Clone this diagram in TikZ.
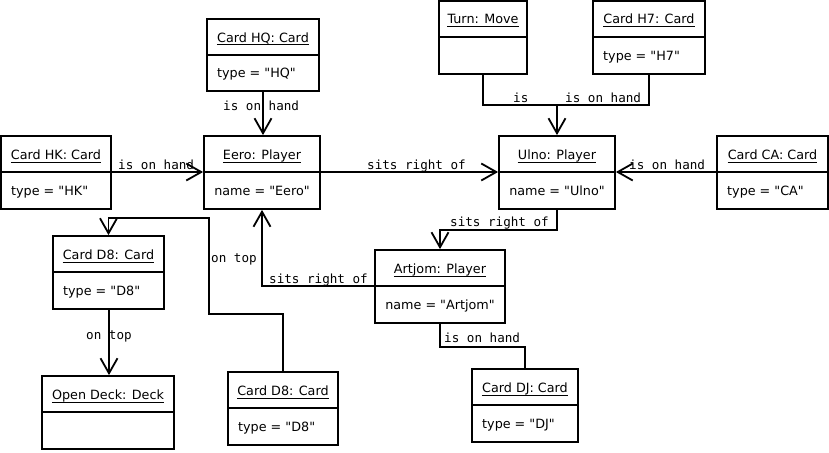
\documentclass[tikz,border=0pt]{standalone}
\usepackage{fontspec}
\setmainfont{DejaVu Sans}[Ligatures=TeXOff]
\newfontfamily\lblfont{DejaVu Sans Mono}[Ligatures=TeXOff]
\usetikzlibrary{arrows.meta}

\tikzset{
  box/.style={draw, line width=1.8pt, inner sep=0pt, rectangle},
  ln/.style={line width=1.8pt},
  arr/.style={ln, -{Straight Barb[length=15pt,width=17pt]}},
  ttl/.style={anchor=base, inner sep=0pt, font=\fontsize{12.75}{14}\selectfont},
  att/.style={anchor=base west, inner sep=0pt, font=\fontsize{12.75}{14}\selectfont},
  attc/.style={anchor=base, inner sep=0pt, font=\fontsize{12.75}{14}\selectfont},
  lbl/.style={anchor=base west, inner sep=0pt, font=\lblfont\fontsize{12.6}{14}\selectfont},
}

\newcommand{\obox}[9]{%
  \node[box, minimum width={(#4-#2)*1pt}, minimum height={(#5-#3)*1pt}] (#1) at ({(#2+#4)/2},{(#3+#5)/2}) {};
  \coordinate (#1d) at (#2,#6);
  \draw[ln] (#1.west |- #1d) -- (#1.east |- #1d);
  \node[ttl] (#1t) at ({(#2+#4)/2},{(#3+#6)/2+5}) {#7};
  \draw[line width=1pt] ([yshift=-3pt]#1t.base west) -- ([yshift=-3pt]#1t.base east);
  \ifx l#9\node[att] (#1a) at ({#2+10},{(#6+#5)/2+4.5}) {#8};\else
  \ifx c#9\node[attc] (#1a) at ({(#2+#4)/2},{(#6+#5)/2+4.5}) {#8};\fi\fi
}

\begin{document}
\begin{tikzpicture}[x=1pt,y=-1pt]
\useasboundingbox[fill=white] (0,0) rectangle (829,452);

\obox{turn}{439}{1}{527}{74}{37}{Turn: Move}{}{n}
\obox{h7}{593}{1}{705}{74}{37}{Card H7: Card}{type = "H7"}{l}
\obox{hq}{207}{19}{319}{91}{55}{Card HQ: Card}{type = "HQ"}{l}
\obox{hk}{1}{136}{111}{209}{172}{Card HK: Card}{type = "HK"}{l}
\obox{eero}{204}{136}{320}{209}{172}{Eero: Player}{name = "Eero"}{c}
\obox{ulno}{499}{136}{615}{209}{172}{Ulno: Player}{name = "Ulno"}{c}
\obox{ca}{717}{136}{828}{209}{172}{Card CA: Card}{type = "CA"}{l}
\obox{d8a}{53}{236}{164}{309}{272}{Card D8: Card}{type = "D8"}{l}
\obox{artjom}{375}{250}{505}{323}{286}{Artjom: Player}{name = "Artjom"}{c}
\obox{deck}{42}{376}{174}{449}{412}{Open Deck: Deck}{}{n}
\obox{d8b}{228}{372}{338}{445}{408}{Card D8: Card}{type = "D8"}{l}
\obox{dj}{472}{369}{578}{442}{405}{Card DJ: Card}{type = "DJ"}{l}

% connectors
\draw[arr] (hq.south) -- (hq.south |- eero.north);
\draw[arr] (hk.east |- hkd) -- (eero.west |- eerod);
\draw[arr] (eero.east |- eerod) -- (ulno.west |- ulnod);
\draw[arr] (ca.west |- cad) -- (ulno.east |- ulnod);
\coordinate (junc) at (557,105);
\draw[ln] (turn.south) |- (junc) -| (h7.south);
\draw[arr] (ulno.north |- junc) -- (ulno.north);
\draw[arr] (ulno.south) -- ++(0,20) -| (artjom.north);
\draw[arr] (artjom.west |- artjomd) -| (eero.south);
\draw[arr] (d8b.north) |- (209,314) -- (209,218) -| (d8a.north);
\draw[arr] ([xshift=0.5pt]d8a.south) -- ([xshift=0.5pt]d8a.south |- deck.north);
\draw[ln] (artjom.south) -- ++(0,23) -| (dj.north);

% labels
\node[lbl] (l1) at (223,110) {is on hand};
\node[lbl] (l2) at (118,169) {is on hand};
\node[lbl] (l3) at (367,169) {sits right of};
\node[lbl] (l4) at (629,169) {is on hand};
\node[lbl] (l5) at (513,102) {is};
\node[lbl] (l6) at (565,102) {is on hand};
\node[lbl] (l7) at (450,226) {sits right of};
\node[lbl] (l8) at (269,283) {sits right of};
\node[lbl] (l9) at (211,262) {on top};
\node[lbl] (l10) at (86,339) {on top};
\node[lbl] (l11) at (444,342) {is on hand};
\end{tikzpicture}
\end{document}
